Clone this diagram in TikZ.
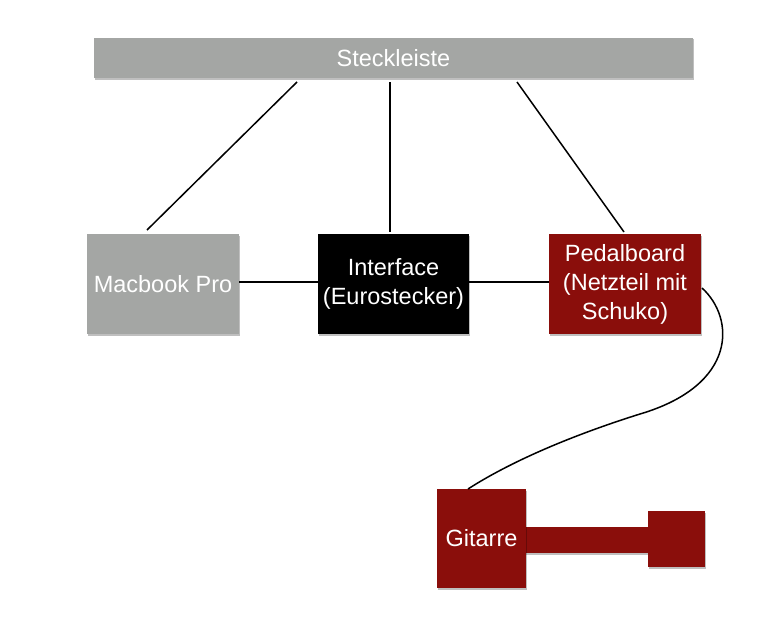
\documentclass[tikz,border=0pt]{standalone}
\usepackage{fontspec}
\setmainfont{Liberation Sans}
\usetikzlibrary{shadows}
\definecolor{boxgray}{HTML}{A4A6A4}
\definecolor{boxred}{HTML}{8A0E0B}
\begin{document}
\begin{tikzpicture}[x=1pt,y=-1pt,
  blk/.style={draw=none,inner sep=0pt,outer sep=0pt,anchor=north west,text=white,align=center,
    font=\fontsize{23.5}{29}\selectfont,
    drop shadow={shadow xshift=1pt,shadow yshift=-1.5pt,opacity=0.25,fill=black}},
  graybox/.style={blk,fill=boxgray},
  redbox/.style={blk,fill=boxred},
  blackbox/.style={blk,fill=black},
  wire/.style={draw=black,line width=1.5pt}]
\useasboundingbox (0,0) rectangle (778,626);
\node[graybox,minimum width=599pt,minimum height=40pt] (bar) at (94,38) {Steckleiste};
\node[graybox,minimum width=152pt,minimum height=100pt] (mac) at (87,234) {Macbook Pro};
\node[blackbox,minimum width=151pt,minimum height=100pt] (ifc) at (318,234) {Interface\\(Eurostecker)};
\node[redbox,minimum width=152pt,minimum height=100pt] (ped) at (549,234) {Pedalboard\\(Netzteil mit\\Schuko)};
\node[redbox,minimum width=124pt,minimum height=26pt] (neck) at (525,527) {};
\node[redbox,minimum width=57pt,minimum height=56pt] (head) at (648,511) {};
\node[redbox,minimum width=89pt,minimum height=99pt] (git) at (437,489) {Gitarre};
\coordinate (b1) at (297,82);
\coordinate (b2) at (390,82);
\coordinate (b3) at (517,82);
\coordinate (m1) at (147,230);
\coordinate (i1) at (390,232);
\coordinate (p1) at (624,232);
\coordinate (pc) at (702,288);
\coordinate (gc) at (468,489);
\draw[wire] (b1) -- (m1);
\draw[wire] (b2) -- (i1);
\draw[wire] (b3) -- (p1);
\draw[wire] (mac.east |- 0,282) -- (ifc.west |- 0,282);
\draw[wire] (ifc.east |- 0,282) -- (ped.west |- 0,282);
\draw[wire] (pc) .. controls (735,318) and (738,385) .. (640,414) .. controls (570,436) and (510,462) .. (gc);
\end{tikzpicture}
\end{document}
